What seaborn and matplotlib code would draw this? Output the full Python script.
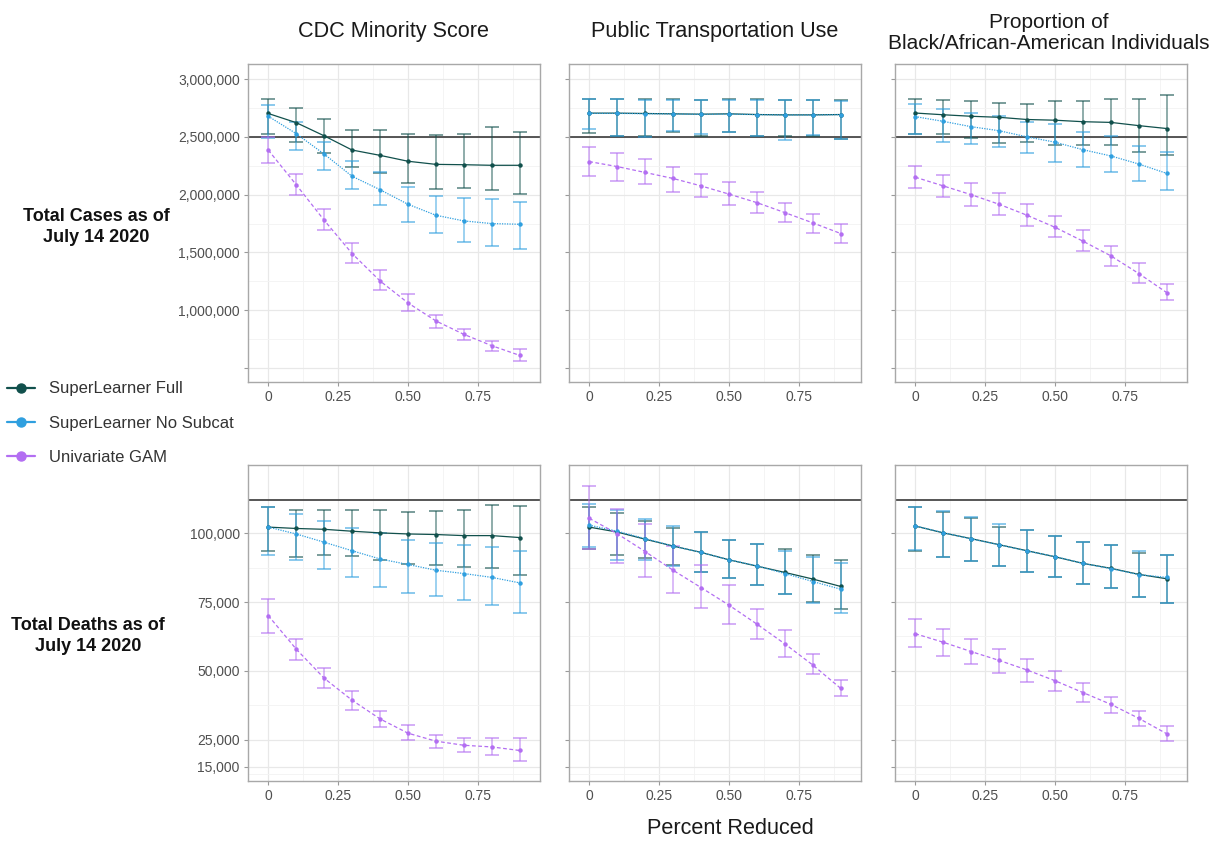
import numpy as np
import pandas as pd
import seaborn as sns
import matplotlib
matplotlib.use("Agg")
import matplotlib.pyplot as plt
from matplotlib.lines import Line2D
from matplotlib.ticker import FixedLocator

# ---------------- data ----------------
pct_reduced = [0.0, 0.1, 0.2, 0.3, 0.4, 0.5, 0.6, 0.7, 0.8, 0.9]
models = ["SuperLearner Full", "SuperLearner No Subcat", "Univariate GAM"]
columns = ["CDC Minority Score", "Public Transportation Use",
           "Proportion of\nBlack/African-American Individuals"]
rows = ["Total Cases as of\nJuly 14 2020", "Total Deaths as of\nJuly 14 2020"]
observed_cases = 2500000
observed_deaths = 112000

# cases (millions) - CDC Minority Score
cases_cdc_full = [2.702, 2.623, 2.509, 2.386, 2.340, 2.289, 2.262, 2.259, 2.254, 2.254]
cases_cdc_full_lo = [2.528, 2.459, 2.359, 2.238, 2.184, 2.103, 2.049, 2.057, 2.041, 2.005]
cases_cdc_full_hi = [2.831, 2.748, 2.656, 2.558, 2.558, 2.525, 2.512, 2.528, 2.586, 2.540]
cases_cdc_nosub = [2.678, 2.528, 2.351, 2.159, 2.043, 1.917, 1.822, 1.773, 1.750, 1.744]
cases_cdc_nosub_lo = [2.489, 2.384, 2.214, 2.049, 1.914, 1.764, 1.672, 1.589, 1.555, 1.534]
cases_cdc_nosub_hi = [2.779, 2.632, 2.459, 2.292, 2.195, 2.065, 1.986, 1.974, 1.960, 1.934]
cases_cdc_gam = [2.386, 2.086, 1.779, 1.491, 1.254, 1.064, 0.908, 0.792, 0.694, 0.610]
cases_cdc_gam_lo = [2.278, 2.000, 1.698, 1.410, 1.179, 0.994, 0.850, 0.740, 0.647, 0.561]
cases_cdc_gam_hi = [2.495, 2.181, 1.874, 1.583, 1.346, 1.145, 0.957, 0.835, 0.737, 0.662]

# cases (millions) - Public Transportation Use
cases_trn_full = [2.705, 2.705, 2.702, 2.699, 2.696, 2.699, 2.693, 2.690, 2.690, 2.693]
cases_trn_full_lo = [2.535, 2.510, 2.510, 2.545, 2.510, 2.545, 2.510, 2.505, 2.505, 2.480]
cases_trn_full_hi = [2.825, 2.825, 2.825, 2.830, 2.820, 2.830, 2.825, 2.820, 2.820, 2.820]
cases_trn_nosub = [2.703, 2.703, 2.700, 2.698, 2.695, 2.697, 2.692, 2.689, 2.689, 2.692]
cases_trn_nosub_lo = [2.570, 2.505, 2.495, 2.550, 2.525, 2.545, 2.510, 2.475, 2.520, 2.480]
cases_trn_nosub_hi = [2.825, 2.825, 2.820, 2.815, 2.815, 2.820, 2.820, 2.815, 2.815, 2.810]
cases_trn_gam = [2.286, 2.243, 2.192, 2.140, 2.076, 2.005, 1.931, 1.845, 1.756, 1.664]
cases_trn_gam_lo = [2.159, 2.122, 2.089, 2.024, 1.977, 1.914, 1.839, 1.761, 1.672, 1.586]
cases_trn_gam_hi = [2.416, 2.364, 2.305, 2.243, 2.176, 2.108, 2.022, 1.931, 1.833, 1.744]

# cases (millions) - Proportion Black/African-American
cases_blk_full = [2.706, 2.691, 2.678, 2.669, 2.650, 2.644, 2.631, 2.625, 2.597, 2.572]
cases_blk_full_lo = [2.525, 2.522, 2.486, 2.451, 2.459, 2.432, 2.432, 2.427, 2.365, 2.343]
cases_blk_full_hi = [2.828, 2.816, 2.813, 2.794, 2.788, 2.806, 2.813, 2.825, 2.831, 2.859]
cases_blk_nosub = [2.675, 2.634, 2.588, 2.553, 2.500, 2.454, 2.389, 2.335, 2.265, 2.184]
cases_blk_nosub_lo = [2.522, 2.459, 2.441, 2.416, 2.359, 2.286, 2.243, 2.195, 2.122, 2.041]
cases_blk_nosub_hi = [2.788, 2.744, 2.709, 2.681, 2.625, 2.613, 2.538, 2.509, 2.419, 2.373]
cases_blk_gam = [2.151, 2.076, 2.000, 1.917, 1.822, 1.718, 1.598, 1.471, 1.318, 1.153]
cases_blk_gam_lo = [2.057, 1.980, 1.902, 1.825, 1.733, 1.632, 1.517, 1.387, 1.240, 1.087]
cases_blk_gam_hi = [2.248, 2.170, 2.103, 2.013, 1.920, 1.816, 1.693, 1.557, 1.410, 1.231]

# deaths (thousands) - CDC Minority Score
deaths_cdc_full = [102.3, 101.8, 101.5, 100.8, 100.2, 99.8, 99.6, 99.2, 99.2, 98.5]
deaths_cdc_full_lo = [93.7, 91.5, 92.2, 91.9, 90.5, 89.0, 88.5, 87.9, 87.3, 84.7]
deaths_cdc_full_hi = [109.6, 108.7, 108.5, 108.4, 108.7, 107.9, 108.2, 108.4, 110.3, 109.9]
deaths_cdc_nosub = [102.3, 99.8, 96.8, 93.7, 90.7, 88.7, 86.6, 85.4, 84.0, 82.0]
deaths_cdc_nosub_lo = [92.1, 90.5, 86.9, 84.0, 80.4, 78.3, 77.2, 75.6, 73.8, 71.1]
deaths_cdc_nosub_hi = [109.6, 107.0, 104.4, 101.8, 100.0, 97.6, 96.5, 95.9, 95.0, 93.6]
deaths_cdc_gam = [70.1, 57.9, 47.3, 39.3, 32.5, 27.3, 24.4, 22.9, 22.3, 21.0]
deaths_cdc_gam_lo = [63.9, 53.9, 43.8, 35.6, 29.7, 24.8, 21.9, 20.3, 19.3, 17.1]
deaths_cdc_gam_hi = [76.3, 61.6, 51.1, 42.6, 35.2, 30.2, 26.8, 25.4, 25.4, 25.4]

# deaths (thousands) - Public Transportation Use
deaths_trn_full = [102.3, 100.5, 97.9, 95.4, 93.1, 90.4, 88.1, 85.8, 83.4, 80.7]
deaths_trn_full_lo = [94.2, 92.0, 90.9, 88.6, 85.8, 83.6, 81.1, 77.8, 75.2, 72.4]
deaths_trn_full_hi = [109.7, 107.5, 104.7, 101.8, 100.6, 97.6, 96.2, 94.2, 92.1, 90.3]
deaths_trn_nosub = [103.0, 100.8, 98.1, 95.4, 93.1, 90.4, 88.2, 85.4, 82.5, 79.7]
deaths_trn_nosub_lo = [95.1, 90.3, 90.5, 88.1, 85.8, 83.6, 81.1, 77.8, 74.5, 71.2]
deaths_trn_nosub_hi = [110.8, 108.5, 105.1, 102.7, 100.6, 97.6, 96.2, 93.7, 91.5, 89.1]
deaths_trn_gam = [105.5, 99.9, 93.4, 86.6, 80.3, 73.9, 67.0, 59.8, 52.1, 43.6]
deaths_trn_gam_lo = [94.5, 89.4, 84.3, 78.4, 72.8, 67.1, 61.6, 54.9, 48.7, 40.8]
deaths_trn_gam_hi = [117.2, 109.0, 103.3, 95.3, 88.6, 81.1, 72.4, 64.9, 56.1, 46.6]

# deaths (thousands) - Proportion Black/African-American
deaths_blk_full = [102.7, 100.2, 98.1, 95.9, 93.7, 91.5, 89.1, 87.3, 85.1, 83.5]
deaths_blk_full_lo = [93.7, 91.3, 89.9, 88.2, 85.8, 84.2, 81.5, 80.2, 76.9, 74.7]
deaths_blk_full_hi = [109.7, 107.9, 105.5, 102.2, 101.2, 99.0, 97.0, 95.9, 92.7, 92.1]
deaths_blk_nosub = [102.7, 100.3, 98.0, 95.9, 93.6, 91.6, 89.1, 87.2, 85.0, 84.0]
deaths_blk_nosub_lo = [93.9, 91.3, 89.9, 88.2, 86.0, 84.2, 81.5, 80.2, 76.7, 74.7]
deaths_blk_nosub_hi = [109.7, 108.1, 106.1, 103.3, 101.2, 99.0, 97.0, 95.9, 93.7, 92.1]
deaths_blk_gam = [63.5, 60.4, 57.0, 53.8, 50.3, 46.4, 42.1, 37.8, 32.7, 27.1]
deaths_blk_gam_lo = [58.6, 55.3, 52.4, 49.3, 46.1, 42.8, 38.8, 34.7, 29.8, 24.5]
deaths_blk_gam_hi = [68.8, 65.1, 61.5, 58.0, 54.3, 50.0, 45.7, 40.6, 35.3, 29.8]

x_ticks = [0, 0.25, 0.50, 0.75]
x_tick_labels = ["0", "0.25", "0.50", "0.75"]
cases_ticks = [500000, 1000000, 1500000, 2000000, 2500000, 3000000]
cases_tick_labels = ["", "1,000,000", "1,500,000", "2,000,000", "2,500,000", "3,000,000"]
deaths_ticks = [15000, 25000, 50000, 75000, 100000]
deaths_tick_labels = ["15,000", "25,000", "50,000", "75,000", "100,000"]

# ---------------- assemble long table ----------------
panels = {
    (0, 0): [(cases_cdc_full, cases_cdc_full_lo, cases_cdc_full_hi),
             (cases_cdc_nosub, cases_cdc_nosub_lo, cases_cdc_nosub_hi),
             (cases_cdc_gam, cases_cdc_gam_lo, cases_cdc_gam_hi)],
    (0, 1): [(cases_trn_full, cases_trn_full_lo, cases_trn_full_hi),
             (cases_trn_nosub, cases_trn_nosub_lo, cases_trn_nosub_hi),
             (cases_trn_gam, cases_trn_gam_lo, cases_trn_gam_hi)],
    (0, 2): [(cases_blk_full, cases_blk_full_lo, cases_blk_full_hi),
             (cases_blk_nosub, cases_blk_nosub_lo, cases_blk_nosub_hi),
             (cases_blk_gam, cases_blk_gam_lo, cases_blk_gam_hi)],
    (1, 0): [(deaths_cdc_full, deaths_cdc_full_lo, deaths_cdc_full_hi),
             (deaths_cdc_nosub, deaths_cdc_nosub_lo, deaths_cdc_nosub_hi),
             (deaths_cdc_gam, deaths_cdc_gam_lo, deaths_cdc_gam_hi)],
    (1, 1): [(deaths_trn_full, deaths_trn_full_lo, deaths_trn_full_hi),
             (deaths_trn_nosub, deaths_trn_nosub_lo, deaths_trn_nosub_hi),
             (deaths_trn_gam, deaths_trn_gam_lo, deaths_trn_gam_hi)],
    (1, 2): [(deaths_blk_full, deaths_blk_full_lo, deaths_blk_full_hi),
             (deaths_blk_nosub, deaths_blk_nosub_lo, deaths_blk_nosub_hi),
             (deaths_blk_gam, deaths_blk_gam_lo, deaths_blk_gam_hi)],
}
unit = {0: 1e6, 1: 1e3}

records = []
for (r, c), series in panels.items():
    for m, (est, lo, hi) in zip(models, series):
        for x, e, l, h in zip(pct_reduced, est, lo, hi):
            records.append(dict(row=r, col=c, model=m, x=x,
                                est=e * unit[r], lo=l * unit[r], hi=h * unit[r]))
df = pd.DataFrame(records)

# ---------------- styling ----------------
sns.set_theme(style="white")
plt.rcParams["font.family"] = ["Liberation Sans", "DejaVu Sans"]

palette = {"SuperLearner Full": "#11504c",
           "SuperLearner No Subcat": "#2f9fdf",
           "Univariate GAM": "#b36ef2"}
dashes = {"SuperLearner Full": "",
          "SuperLearner No Subcat": (1, 1),
          "Univariate GAM": (3, 2)}

fig = plt.figure(figsize=(12.18, 8.41), dpi=100)
W, H = 1218.0, 841.0
col_left = [248, 569, 895]
col_w = 292
row_top = [64, 465]
row_h = [318, 316]
ylims = {0: (380000, 3130000), 1: (9900, 124900)}
hlines = {0: observed_cases, 1: observed_deaths}

for r in range(2):
    for c in range(3):
        ax = fig.add_axes([col_left[c] / W, 1 - (row_top[r] + row_h[r]) / H,
                           col_w / W, row_h[r] / H])
        sub = df[(df.row == r) & (df.col == c)]
        ax.set_axisbelow(True)
        ax.set_xlim(-0.0725, 0.9725)
        ax.set_ylim(*ylims[r])
        ax.xaxis.set_major_locator(FixedLocator(x_ticks))
        ax.xaxis.set_minor_locator(FixedLocator([0.125, 0.375, 0.625, 0.875]))
        if r == 0:
            ax.yaxis.set_major_locator(FixedLocator(cases_ticks))
            ax.yaxis.set_minor_locator(FixedLocator([750000, 1250000, 1750000, 2250000, 2750000]))
        else:
            ax.yaxis.set_major_locator(FixedLocator(deaths_ticks))
            ax.yaxis.set_minor_locator(FixedLocator([12500, 37500, 62500, 87500, 112500]))
        ax.grid(which="major", color="#e8e8e8", linewidth=0.9)
        ax.grid(which="minor", color="#f3f3f3", linewidth=0.6)

        ax.axhline(hlines[r], color="#3a3a3a", linewidth=1.2, zorder=2)

        for m in models:
            s = sub[sub.model == m]
            ax.errorbar(s["x"], s["est"],
                        yerr=[s["est"] - s["lo"], s["hi"] - s["est"]],
                        fmt="none", ecolor=palette[m], alpha=0.6,
                        elinewidth=1.1, capsize=5, capthick=1.3, zorder=3)

        sns.lineplot(data=sub, x="x", y="est", hue="model", style="model",
                     hue_order=models, style_order=models,
                     palette=palette, dashes=dashes,
                     markers={m: "o" for m in models}, markersize=3.2,
                     markeredgewidth=0, linewidth=0.9,
                     legend=False, ax=ax, zorder=4)

        ax.set_xlabel("")
        ax.set_ylabel("")
        ax.set_xticklabels(x_tick_labels)
        if c == 0:
            ax.set_yticklabels(cases_tick_labels if r == 0 else deaths_tick_labels)
        else:
            ax.set_yticklabels([])
        ax.tick_params(axis="both", which="major", length=3, width=0.8,
                       color="#9a9a9a", labelcolor="#4f4f4f", labelsize=10,
                       pad=3, left=True, bottom=True)
        ax.tick_params(which="minor", length=0)
        for sp in ax.spines.values():
            sp.set_color("#a8a8a8")
            sp.set_linewidth(1.0)

        if r == 0:
            cx = (col_left[c] + col_w / 2) / W
            if c < 2:
                fig.text(cx, 1 - 32 / H, columns[c], ha="center", va="center",
                         fontsize=15.6, color="#1a1a1a")
            else:
                fig.text(cx + 8 / W, 1 - 33 / H, columns[c], ha="center",
                         va="center", fontsize=15, color="#1a1a1a",
                         linespacing=1.15)

# row labels
fig.text(96 / W, 1 - 227 / H, rows[0], ha="center", va="center",
         fontsize=13, fontweight="bold", color="#111111", linespacing=1.25)
fig.text(88 / W, 1 - 636 / H, rows[1], ha="center", va="center",
         fontsize=13, fontweight="bold", color="#111111", linespacing=1.25)

# x label
fig.text(730 / W, 1 - 828 / H, "Percent Reduced", ha="center", va="center",
         fontsize=15.6, color="#1a1a1a")

# legend
handles = [Line2D([0], [0], color=palette[m], marker="o", markersize=6.5,
                  linewidth=1.6) for m in models]
fig.legend(handles, models, loc="center left",
           bbox_to_anchor=(-8.0 / W, 1 - 423 / H), frameon=False,
           fontsize=12, labelcolor="#333333", handlelength=1.7,
           handletextpad=0.8, labelspacing=1.15)

fig.savefig("out.png", dpi=100, facecolor="white")
